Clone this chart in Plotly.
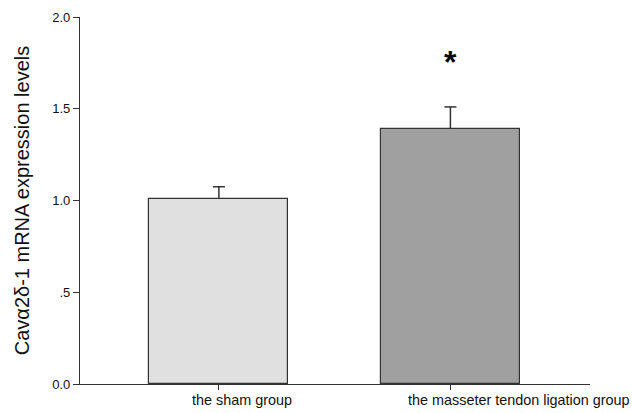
import plotly.graph_objects as go

# Group means and upper error (SD) for Cavα2δ-1 mRNA expression
groups = ["the sham group", "the masseter tendon ligation group"]
means = [1.01, 1.39]
errors = [0.065, 0.12]
bar_colors = ["#e0e0e0", "#a0a0a0"]

y_tick_vals = [0.0, 0.5, 1.0, 1.5, 2.0]
y_tick_text = ["0.0", ".5", "1.0", "1.5", "2.0"]

positions = [0, 1]
label_shift = [23, 69]  # horizontal pixel offset of each category label
cap_half = 0.026  # half width of the error-bar cap, in category units

fig = go.Figure()
fig.add_trace(go.Bar(
    x=positions,
    y=means,
    width=0.6,
    marker=dict(color=bar_colors, line=dict(color="#333333", width=1.2)),
    showlegend=False,
    hoverinfo="skip",
))

# Upper-only error bars: stem from bar top to mean + error, then a cap
err_x, err_y = [], []
for xp, m, e in zip(positions, means, errors):
    err_x += [xp, xp, None, xp - cap_half, xp + cap_half, None]
    err_y += [m, m + e, None, m + e, m + e, None]
fig.add_trace(go.Scatter(
    x=err_x, y=err_y, mode="lines",
    line=dict(color="#333333", width=1.5),
    showlegend=False, hoverinfo="skip",
))

# Category labels below the axis
for xp, name, dx in zip(positions, groups, label_shift):
    fig.add_annotation(x=xp, y=0, yref="y", text=name, showarrow=False,
                       xanchor="center", yanchor="middle", xshift=dx, yshift=-16,
                       font=dict(size=14.4, color="#111111"))

# Significance marker above the ligation group
fig.add_annotation(x=1, y=1.757, text="<b>*</b>", showarrow=False,
                   font=dict(size=32, color="black", family="Liberation Sans"),
                   xanchor="center", yanchor="middle")

fig.update_layout(
    width=632, height=413,
    margin=dict(l=80, r=42, t=17, b=29),
    paper_bgcolor="white", plot_bgcolor="white",
    font=dict(family="Liberation Sans, Arial", color="#111111"),
    bargap=0,
)
fig.update_xaxes(
    range=[-0.600, 1.603],
    tickvals=positions, ticktext=["", ""],
    ticks="outside", ticklen=5, tickcolor="#333333", tickwidth=1.2,
    showline=True, linecolor="#333333", linewidth=1.2,
    showgrid=False, zeroline=False, automargin=False,
)
fig.update_yaxes(
    range=[0, 2],
    tickvals=y_tick_vals, ticktext=y_tick_text,
    ticks="outside", ticklen=6, tickcolor="#333333", tickwidth=1.2,
    showline=True, linecolor="#333333", linewidth=1.2,
    showgrid=False, zeroline=False, automargin=False,
    tickfont=dict(size=13),
    title=dict(text="Cavα2δ-1 mRNA expression levels", font=dict(size=20), standoff=17),
)

fig.write_html("out.html")
